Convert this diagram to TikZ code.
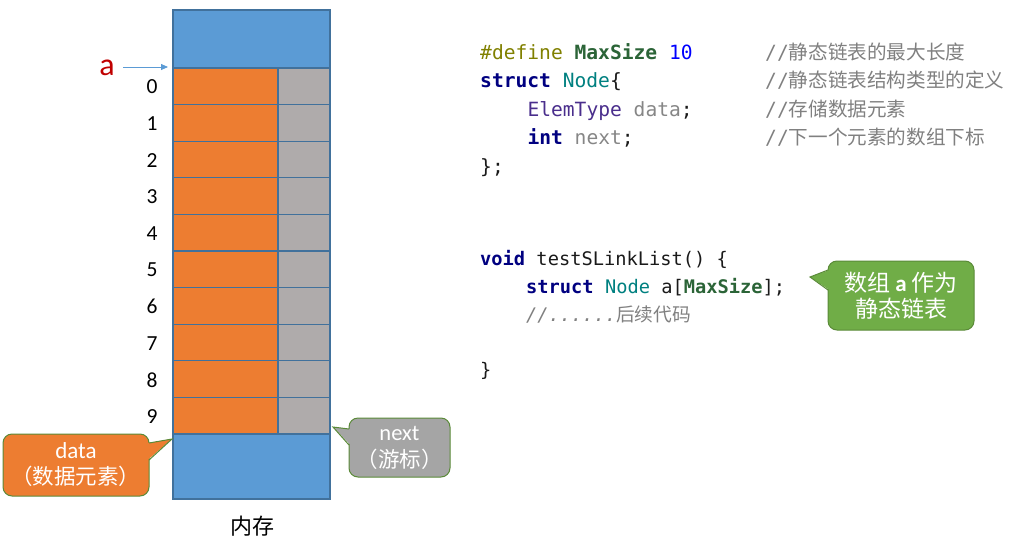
\documentclass[tikz,border=0pt]{standalone}
\usepackage{fontspec}
\setmonofont{DejaVu Sans Mono}
\newfontfamily\cjk{Noto Sans CJK SC}
\newfontfamily\carl{Carlito}
\usetikzlibrary{arrows.meta}
\definecolor{cblue}{HTML}{5B9BD5}
\definecolor{corange}{HTML}{ED7D31}
\definecolor{cgray}{HTML}{AFABAB}
\definecolor{cedge}{HTML}{41719C}
\definecolor{cgreen}{HTML}{70AD47}
\definecolor{cgreenedge}{HTML}{5A8A38}
\definecolor{ccallgray}{HTML}{A5A5A5}
\definecolor{cdef}{HTML}{808000}
\definecolor{cmac}{HTML}{2B6437}
\definecolor{cnum}{HTML}{0000FF}
\definecolor{ckey}{HTML}{000080}
\definecolor{ctype}{HTML}{008080}
\definecolor{celem}{HTML}{4A2E8C}
\definecolor{cvar}{HTML}{868686}
\definecolor{ccom}{HTML}{808080}
\definecolor{cred}{HTML}{C00000}
\definecolor{ctext}{HTML}{1A1A1A}
\begin{document}
\begin{tikzpicture}[x=1pt,y=-1pt,
  cell/.style={draw=cedge,line width=1.2pt},
  code/.style={anchor=base west,inner sep=0pt,text=ctext,font=\fontsize{19.6}{24}\selectfont\ttfamily},
  codeb/.style={code,font=\fontsize{18.7}{24}\selectfont\ttfamily},
  comm/.style={anchor=base west,inner sep=0pt,text=ccom,font=\fontsize{19.6}{24}\selectfont},
  idx/.style={inner sep=0pt,font=\carl\fontsize{21.5}{24}\selectfont},
  callbox/.style={rounded corners=9pt,line width=1pt,align=center,inner sep=0pt,text=white,draw=cgreenedge},
  callline/.style={draw=cgreenedge,line width=1pt},
]
\useasboundingbox (0,0) rectangle (1012,536);

% memory column
\filldraw[cell,fill=cblue] (173,10) rectangle (330,68);
\foreach \i in {0,...,9}{
  \pgfmathsetmacro\yt{68+36.6*\i}
  \pgfmathsetmacro\yb{68+36.6*(\i+1)}
  \pgfmathsetmacro\yc{68+36.6*\i+19}
  \filldraw[cell,fill=corange] (173,\yt) rectangle (278,\yb);
  \filldraw[cell,fill=cgray] (278,\yt) rectangle (330,\yb);
  \node[idx] (i\i) at (152,\yc) {\i};
}
\filldraw[cell,fill=cblue] (173,434) rectangle (330,499);

% a label and arrow
\node[text=cred,font=\carl\fontsize{32}{32}\selectfont,inner sep=0pt] (alab) at (107,68) {a};
\coordinate (aS) at (123,67);
\coordinate (aE) at (168,67);
\draw[cblue,line width=0.8pt,-{Triangle[length=7pt,width=6pt]}] (aS) -- (aE);

% data callout
\node[callbox,fill=corange,minimum width=146pt,minimum height=62pt,font=\fontsize{21.5}{26}\selectfont] (datacall) at (76,465) {{\carl\fontsize{23}{26}\selectfont data}\\{\cjk （数据元素）}};
\coordinate (dtip) at (172,439);
\fill[corange] (147.5,443) -- (dtip) -- (147.5,460) -- cycle;
\draw[callline] (149,443) -- (dtip) -- (149,460);

% next callout
\node[callbox,fill=ccallgray,minimum width=101pt,minimum height=59pt,font=\fontsize{21.5}{27}\selectfont] (nextcall) at (399.5,447.5) {{\carl\fontsize{22.5}{27}\selectfont next}\\{\cjk （游标）}};
\coordinate (ntip) at (333,427);
\fill[ccallgray] (350.5,429) -- (ntip) -- (350.5,445) -- cycle;
\draw[callline] (349,429) -- (ntip) -- (349,445);

% memory label
\node[inner sep=0pt,font=\cjk\fontsize{22}{22}\selectfont] (mem) at (252,526) {内存};

% code block 1
\node[code] (c1) at (480,59) {\textcolor{cdef}{\#define} \textcolor{cmac}{\bfseries MaxSize} \textcolor{cnum}{10}};
\node[code] (c2) at (480,87.6) {\textcolor{ckey}{\bfseries struct} \textcolor{ctype}{Node}\{};
\node[code] (c3) at (527.3,116.2) {\textcolor{celem}{ElemType} \textcolor{cvar}{data};};
\node[code] (c4) at (527.3,144.8) {\textcolor{ckey}{\bfseries int} \textcolor{cvar}{next};};
\node[code] (c5) at (480,173.4) {\};};

\node[comm] (m1) at (765,59) {{\ttfamily //}{\cjk 静态链表的最大长度}};
\node[comm] (m2) at (765,87.6) {{\ttfamily //}{\cjk 静态链表结构类型的定义}};
\node[comm] (m3) at (765,116.2) {{\ttfamily //}{\cjk 存储数据元素}};
\node[comm] (m4) at (765,144.8) {{\ttfamily //}{\cjk 下一个元素的数组下标}};

% code block 2
\node[codeb] (d1) at (480,265) {\textcolor{ckey}{\bfseries void} testSLinkList() \{};
\node[codeb] (d2) at (526,293) {\textcolor{ckey}{\bfseries struct} \textcolor{ctype}{Node} a[\textcolor{cmac}{\bfseries MaxSize}];};
\node[codeb] (d3) at (526,321) {\textcolor{ccom}{\itshape //......}\textcolor{ccom}{\cjk 后续代码}};
\node[codeb] (d4) at (480,376) {\}};

% green callout
\node[callbox,fill=cgreen,minimum width=146pt,minimum height=69pt,font=\cjk\fontsize{23}{26}\selectfont] (gcall) at (901,295.5) {数组 {\carl\bfseries a} 作为\\静态链表};
\coordinate (gtip) at (810,277);
\fill[cgreen] (829.5,270) -- (gtip) -- (829.5,290) -- cycle;
\draw[callline] (828,270) -- (gtip) -- (828,290);
\end{tikzpicture}
\end{document}
